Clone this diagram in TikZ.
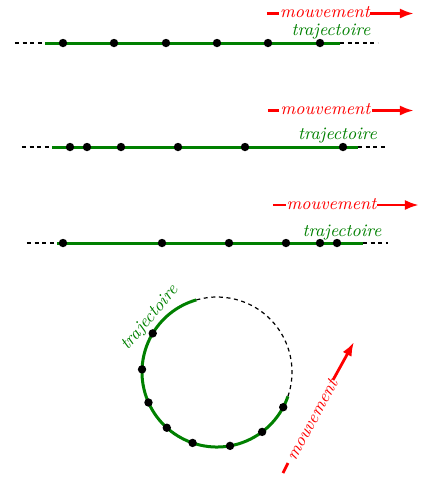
\documentclass[tikz,border=0pt]{standalone}
\usetikzlibrary{arrows.meta}
\definecolor{trajgreen}{RGB}{0,128,0}
\begin{document}
\begin{tikzpicture}[x=0.5pt,y=-0.5pt,
  trajline/.style={draw=trajgreen,line width=1.5pt},
  ext/.style={draw=black,line width=0.6pt,dash pattern=on 2pt off 1.8pt},
  dotmark/.style={circle,fill=black,inner sep=0pt,minimum size=4.2pt},
  lbl/.style={font=\fontsize{8.8}{10}\selectfont\itshape,inner sep=0pt},
  trlbl/.style={lbl,text=trajgreen},
  mvlbl/.style={lbl,text=red},
  mvline/.style={draw=red,line width=1.4pt},
  mvarrow/.style={mvline,-{Latex[length=7pt,width=5pt]}}]
\useasboundingbox (0,0) rectangle (428,479);

% ---------- uniform motion ----------
\coordinate (l1a) at (15,43);  \coordinate (l1b) at (45,43);
\coordinate (l1c) at (340,43); \coordinate (l1d) at (378,43);
\draw[ext] (l1a) -- (l1b);
\draw[ext] (l1c) -- (l1d);
\draw[trajline] (l1b) -- (l1c);
\foreach \x [count=\i] in {63,114,166,217,268,320}
  \node[dotmark] (p1\i) at (\x,43) {};
\node[mvlbl,anchor=base] (m1) at (325,17.5) {mouvement};
\node[trlbl,anchor=base] (t1) at (331,35.5) {trajectoire};
\coordinate (r1a) at (267,13.5); \coordinate (r1b) at (279,13.5);
\coordinate (r1c) at (370,13.5); \coordinate (r1d) at (414,13.5);
\draw[mvline] (r1a) -- (r1b);
\draw[mvarrow] (r1c) -- (r1d);

% ---------- decelerated motion ----------
\coordinate (l2a) at (22,147);  \coordinate (l2b) at (52,147);
\coordinate (l2c) at (358,147); \coordinate (l2d) at (385,147);
\draw[ext] (l2a) -- (l2b);
\draw[ext] (l2c) -- (l2d);
\draw[trajline] (l2b) -- (l2c);
\foreach \x [count=\i] in {70,87,121,178,245,343}
  \node[dotmark] (p2\i) at (\x,147) {};
\node[mvlbl,anchor=base] (m2) at (325.5,114.5) {mouvement};
\node[trlbl,anchor=base] (t2) at (337.5,139) {trajectoire};
\coordinate (r2a) at (268,110.5); \coordinate (r2b) at (279,110.5);
\coordinate (r2c) at (372,110.5); \coordinate (r2d) at (414,110.5);
\draw[mvline] (r2a) -- (r2b);
\draw[mvarrow] (r2c) -- (r2d);

% ---------- accelerated motion ----------
\coordinate (l3a) at (27,243);  \coordinate (l3b) at (57,243);
\coordinate (l3c) at (363,243); \coordinate (l3d) at (388,243);
\draw[ext] (l3a) -- (l3b);
\draw[ext] (l3c) -- (l3d);
\draw[trajline] (l3b) -- (l3c);
\foreach \x [count=\i] in {63,162,229,286,320,337}
  \node[dotmark] (p3\i) at (\x,243) {};
\node[mvlbl,anchor=base] (m3) at (331.5,209) {mouvement};
\node[trlbl,anchor=base] (t3) at (342,236.5) {trajectoire};
\coordinate (r3a) at (273,205); \coordinate (r3b) at (286,205);
\coordinate (r3c) at (377,205); \coordinate (r3d) at (419,205);
\draw[mvline] (r3a) -- (r3b);
\draw[mvarrow] (r3c) -- (r3d);

% ---------- circular motion ----------
\coordinate (c) at (217,372);
\coordinate (cs) at ([shift={(-106:75)}]c);
\coordinate (ce) at ([shift={(19:75)}]c);
\draw[ext] (ce) arc[start angle=19,end angle=-106,radius=75];
\draw[trajline] (cs) arc[start angle=-106,end angle=-341,radius=75];
\foreach \a [count=\i] in {149,178,204,228,251,280,307,332}
  \node[dotmark] (p4\i) at ([shift={(-\a:75)}]c) {};
\node[trlbl,rotate=50] (t4) at (150,318) {trajectoire};
\coordinate (r4a) at (283,473); \coordinate (r4b) at (288,463);
\coordinate (r4c) at (333,380); \coordinate (r4d) at (354,342);
\draw[mvline] (r4a) -- (r4b);
\draw[mvarrow] (r4c) -- (r4d);
\node[mvlbl,rotate=61.5] (m4) at (312,420) {mouvement};
\end{tikzpicture}
\end{document}
